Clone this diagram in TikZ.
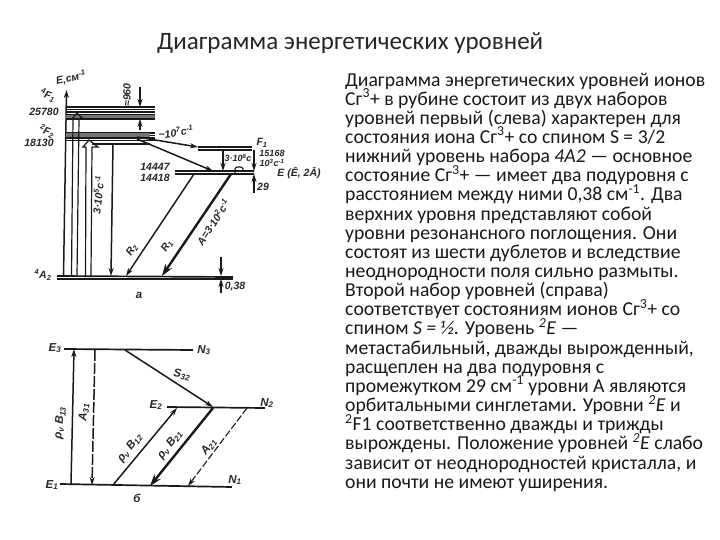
\documentclass[tikz,border=0pt]{standalone}
\usepackage{fontspec}
\setmainfont{Carlito}
\newfontfamily\lab{Liberation Sans}
\usetikzlibrary{arrows.meta}
\newcommand{\sbs}[1]{\textsubscript{#1}}
\newcommand{\sps}[1]{\textsuperscript{#1}}
\newcommand{\tightlines}{\lineskiplimit -30pt\relax\normallineskiplimit -30pt\relax}
\tikzset{
  px/.style={x=1pt,y=-1pt},
  lev/.style={line width=1.1pt,black!90},
  thick lev/.style={line width=1.7pt,black!90},
  arr/.style={line width=1.5pt,black!90},
  tip/.style={-{Stealth[length=8pt,width=5pt]}},
  bigtip/.style={-{Stealth[length=12pt,width=8pt]},line width=2.4pt,black!90},
  hollow/.style={line width=1.2pt,black!90},
  lb/.style={font=\lab\itshape\bfseries\fontsize{10.5}{11}\selectfont,text=black!85,inner sep=0pt},
  lbs/.style={font=\lab\itshape\bfseries\fontsize{9}{10}\selectfont,text=black!85,inner sep=0pt},
  lbb/.style={font=\lab\itshape\bfseries\fontsize{11.5}{12}\selectfont,text=black!85,inner sep=0pt},
  title/.style={font=\fontsize{25}{28}\selectfont,anchor=west,inner sep=0pt,text=black!85},
  body/.style={font=\fontsize{19.7}{19.15}\selectfont\tightlines,anchor=north west,align=left,inner sep=0pt,text=black!90}
}
\begin{document}
\begin{tikzpicture}[px]
\useasboundingbox (0,0) rectangle (720,540);
\fill[white] (0,0) rectangle (720,540);
\node[title] (ttl) at (157,43) {Диаграмма энергетических уровней};
\node[body] (txt) at (345,72.5) {Диаграмма энергетических уровней ионов\\
Сг\sps{3}+ в рубине состоит из двух наборов\\
уровней первый (слева) характерен для\\
состояния иона Сг\sps{3}+ со спином S = 3/2\\
нижний уровень набора \textit{4А2} — основное\\
состояние Сг\sps{3}+ — имеет два подуровня с\\
расстоянием между ними 0,38 см\sps{-1}. Два\\
верхних уровня представляют собой\\
уровни резонансного поглощения. Они\\
состоят из шести дублетов и вследствие\\
неоднородности поля сильно размыты.\\
Второй набор уровней (справа)\\
соответствует состояниям ионов Сг\sps{3}+ со\\
спином \textit{S = ½}. Уровень \sps{\textit{2}}\textit{Е} —\\
метастабильный, дважды вырожденный,\\
расщеплен на два подуровня с\\
промежутком 29 см\sps{-1} уровни А являются\\
орбитальными синглетами. Уровни \sps{\textit{2}}\textit{Е} и\\
\sps{2}F1 соответственно дважды и трижды\\
вырождены. Положение уровней \sps{\textit{2}}\textit{Е} слабо\\
зависит от неоднородностей кристалла, и\\
они почти не имеют уширения.};
% --- diagram a
\coordinate (axb) at (63.5,276);
\coordinate (axt) at (66.5,90);
\draw[arr,tip] (axb) -- (axt);
\foreach \y in {107,109.5,112,115,119}{\draw[lev] (66,\y) -- (155,\y);}
\fill[black!55] (66,115) rectangle (155,118);
\foreach \y in {133,135.5,138,140.5}{\draw[lev] (66,\y) -- (155,\y);}
\fill[black!55] (66,133) rectangle (150,137);
\draw[lev] (92,144) -- (150,144);
% levels
\coordinate (F1a) at (198,147); \coordinate (F1b) at (252,147);
\coordinate (F1c) at (198,150); \coordinate (F1d) at (252,150);
\draw[lev] (F1a) -- (F1b); \draw[lev] (F1c) -- (F1d);
\coordinate (E1) at (175,171); \coordinate (E2) at (254,171);
\coordinate (E3) at (175,174); \coordinate (E4) at (254,174);
\draw[lev] (E1) -- (E2); \draw[thick lev] (E3) -- (E4);
\coordinate (Aa) at (57,276); \coordinate (Ab) at (233,277);
\coordinate (Ac) at (57,279); \coordinate (Ad) at (233,279);
\draw[thick lev] (Aa) -- (Ab); \draw[lev] (Ac) -- (Ad);
% hollow pump arrows
\draw[hollow] (71.5,276) -- (73,119) (77,276) -- (79,119);
\draw[hollow] (73,119) -- (72,119) -- (77,113) -- (83,119) -- (79,119);
\draw[hollow] (85.5,276) -- (86,147) (91,276) -- (92,147);
\draw[hollow] (86,147) -- (83,147) -- (89,140) -- (98,147) -- (92,147);
% decay
\coordinate (g) at (113,143);
\coordinate (ga) at (111,276);
\draw[arr,tip] (g) -- (ga);
\node[lb,rotate=84] (l310) at (98,195) {3·10\sps{5}c\sps{-1}};
% nonradiative
\coordinate (s1) at (137,137); \coordinate (s2) at (198,147);
\coordinate (s3) at (137,139); \coordinate (s4) at (213,171);
\draw[arr,tip] (s1) -- (s2);
\draw[arr,tip] (s3) -- (s4);
\coordinate (fe1) at (223,150); \coordinate (fe2) at (223,171);
\draw[arr,tip] (fe1) -- (fe2);
% R lines
\coordinate (r2a) at (194,174); \coordinate (r2b) at (126,276);
\coordinate (r1a) at (231,174); \coordinate (r1b) at (162,276);
\draw[arr,tip] (r2a) -- (r2b);
\draw[bigtip] (r1a) -- (r1b);
% E bump
\draw[hollow] (235,174) -- (235,169) .. controls (235,167) and (237,167) .. (239,167) .. controls (241,167) and (243,167) .. (243,169) -- (243,171);
% right dims
\coordinate (d1) at (254,150); \coordinate (d2) at (254,171);
\coordinate (d3) at (254,193); \coordinate (d4) at (254,174);
\draw[lev,tip] (d1) -- (d2); \draw[lev,tip] (d3) -- (d4);
% 960 dims
\coordinate (t1) at (140,87); \coordinate (t2) at (140,107);
\coordinate (t3) at (140,130); \coordinate (t4) at (140,119);
\draw[lev,tip] (t1) -- (t2); \draw[lev,tip] (t3) -- (t4);
% 0.38 dims
\coordinate (o1) at (221,257); \coordinate (o2) at (221,276);
\coordinate (o3) at (221,293); \coordinate (o4) at (221,279);
\draw[lev,tip] (o1) -- (o2); \draw[lev,tip] (o3) -- (o4);
% labels a
\node[lb,rotate=12] (ecm) at (71,78) {E,см\sps{-1}};
\node[lb,rotate=-20] (f1l) at (48,95) {\sps{4}F\sbs{1}};
\node[lb] (n1) at (44,112) {25780};
\node[lb,rotate=-20] (f2l) at (47,131) {\sps{2}F\sbs{2}};
\node[lb] (n2) at (39,143) {18130};
\node[lb,rotate=90] (n960) at (127,95) {≈960};
\node[lb,rotate=8] (rate1) at (176,132) {\textasciitilde 10\sps{7}c\sps{-1}};
\node[lbs] (rate2) at (238,158) {3·10\sps{8}c};
\node[lb] (f1r) at (262,143) {F\sbs{1}};
\node[lbs] (n15) at (272,153) {15168};
\node[lbs] (n10) at (272,163) {10\sps{3}c\sps{-1}};
\node[lb] (n44a) at (155,167) {14447};
\node[lb] (n44b) at (155,178) {14418};
\node[lb] (el) at (299,173) {E (Ē, 2Ā)};
\node[lb] (n29) at (263,187) {29};
\node[lb,rotate=57] (r2l) at (132,250) {R\sbs{2}};
\node[lb,rotate=57] (r1l) at (167,246) {R\sbs{1}};
\node[lb,rotate=57] (al) at (213,222) {A=3·10\sps{2}c\sps{-1}};
\node[lb] (a2l) at (43,275) {\sps{4}A\sbs{2}};
\node[lb] (o38) at (235,287) {0,38};
\node[lbb] (al2) at (139,295) {a};
% --- diagram b
\coordinate (E3a) at (64,349); \coordinate (E3b) at (193,350);
\coordinate (E1a) at (60,484); \coordinate (E1b) at (232,487);
\coordinate (E2a) at (167,407); \coordinate (E2b) at (265,408);
\draw[thick lev] (E3a) -- (E3b); \draw[thick lev] (E1a) -- (E1b); \draw[thick lev] (E2a) -- (E2b);
\coordinate (p1) at (71,484); \coordinate (p2) at (74,349);
\draw[arr,tip] (p1) -- (p2);
\coordinate (q1) at (95,350); \coordinate (q2) at (92,485);
\draw[arr,tip,dash pattern=on 11pt off 2pt] (q1) -- (q2);
\coordinate (pb1) at (113,485); \coordinate (pb2) at (177,408);
\draw[arr,tip] (pb1) -- (pb2);
\coordinate (s32a) at (125,350); \coordinate (s32b) at (213,407);
\draw[arr,tip] (s32a) -- (s32b);
\coordinate (rb1) at (213,408); \coordinate (rb2) at (150,486);
\draw[bigtip] (rb1) -- (rb2);
\coordinate (ab1) at (247,408); \coordinate (ab2) at (188,486);
\draw[lev,tip,dash pattern=on 7pt off 2.5pt] (ab1) -- (ab2);
\node[lbb] (le3) at (55,348) {E\sbs{3}};
\node[lbb] (le1) at (52,485) {E\sbs{1}};
\node[lbb] (le2) at (156,405) {E\sbs{2}};
\node[lbb] (ln3) at (204,350) {N\sbs{3}};
\node[lbb] (ln2) at (267,403) {N\sbs{2}};
\node[lbb] (ln1) at (235,480) {N\sbs{1}};
\node[lbb,rotate=-8] (ls32) at (182,375) {S\sbs{32}};
\node[lbb,rotate=84] (lrb13) at (60,423) {ρ\sbs{ν} B\sbs{13}};
\node[lbb,rotate=84] (la31) at (84,412) {A\sbs{31}};
\node[lbb,rotate=52] (lrb12) at (130,448) {ρ\sbs{ν} B\sbs{12}};
\node[lbb,rotate=52] (lrb21) at (170,445) {ρ\sbs{ν} B\sbs{21}};
\node[lbb,rotate=52] (la21) at (209,447) {A\sbs{21}};
\node[lbb] (bl) at (137,498) {б};
\end{tikzpicture}
\end{document}
